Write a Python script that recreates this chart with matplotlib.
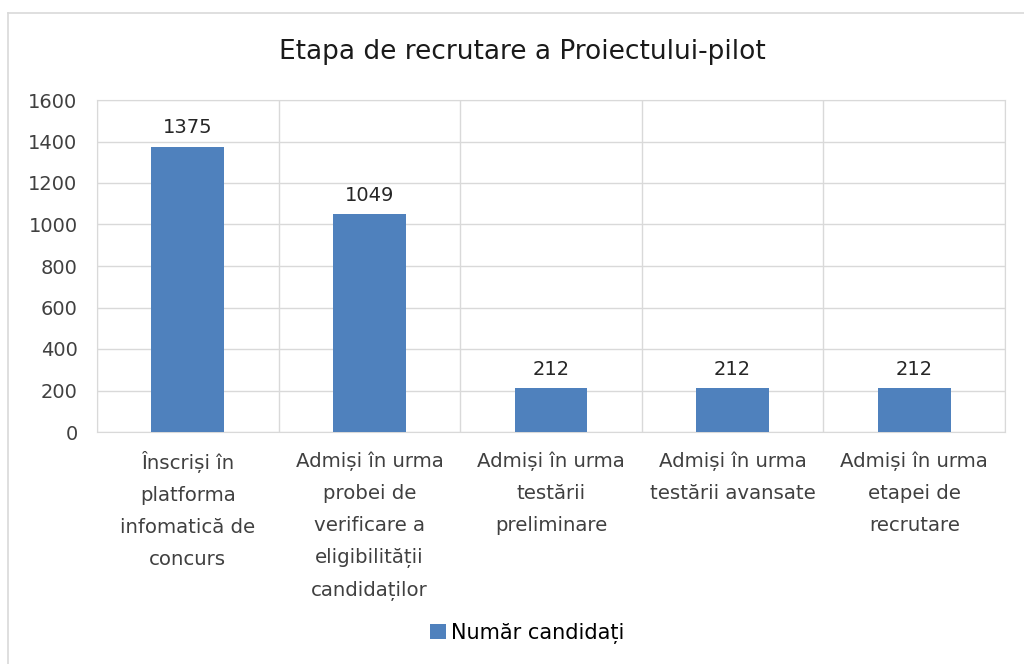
import numpy as np
import matplotlib.pyplot as plt
from matplotlib.lines import Line2D

categories = [
    "Înscriși în\nplatforma\ninfomatică de\nconcurs",
    "Admiși în urma\nprobei de\nverificare a\neligibilității\ncandidaților",
    "Admiși în urma\ntestării\npreliminare",
    "Admiși în urma\ntestării avansate",
    "Admiși în urma\netapei de\nrecrutare",
]
values = [1375, 1049, 212, 212, 212]
series_name = "Număr candidați"
yticks = [0, 200, 400, 600, 800, 1000, 1200, 1400, 1600]

plt.rcParams['font.family'] = ['DejaVu Sans']

fig = plt.figure(figsize=(10.24, 6.64), dpi=100)
ax = fig.add_axes([97 / 1024, 1 - 432 / 664, 908 / 1024, 332 / 664])

x = np.arange(len(categories))
bars = ax.bar(x, values, width=0.4, color='#4f81bd', label=series_name, zorder=3)

for b, v in zip(bars, values):
    ax.text(b.get_x() + b.get_width() / 2, v + 45, str(v), ha='center', va='bottom',
            fontsize=14, color='#262626')

ax.set_xlim(-0.5, len(categories) - 0.5)
ax.set_ylim(0, 1600)
ax.set_yticks(yticks)
ax.set_yticklabels([str(t) for t in yticks], fontsize=14, color='#404040')

ax.set_xticks(x)
ax.set_xticklabels(categories, fontsize=14.2, color='#404040', linespacing=1.86, va='top')
ax.tick_params(axis='both', length=0)
ax.tick_params(axis='x', pad=14)
ax.tick_params(axis='y', pad=14)

# horizontal gridlines plus vertical lines between categories
ax.yaxis.grid(True, color='#d9d9d9', linewidth=1, zorder=0)
ax.set_xticks(np.arange(-0.5, len(categories)), minor=True)
ax.xaxis.grid(True, which='minor', color='#d9d9d9', linewidth=1, zorder=0)
ax.tick_params(axis='x', which='minor', length=0)
for s in ['top', 'right', 'left', 'bottom']:
    ax.spines[s].set_color('#d9d9d9')

fig.text(522 / 1024, 1 - 52 / 664, "Etapa de recrutare a Proiectului-pilot",
         ha='center', va='center', fontsize=19, color='#1a1a1a')

fig.legend(loc='center', bbox_to_anchor=(527 / 1024, 1 - 633 / 664), frameon=False,
           fontsize=15, handlelength=0.75, handleheight=0.75, handletextpad=0.25)

# outer chart border (top and left edges are visible)
fig.add_artist(Line2D([8 / 1024, 1.0], [1 - 13 / 664] * 2, color='#d9d9d9', linewidth=1.2))
fig.add_artist(Line2D([8 / 1024] * 2, [0, 1 - 13 / 664], color='#d9d9d9', linewidth=1.2))

fig.savefig("out.png", dpi=100)
